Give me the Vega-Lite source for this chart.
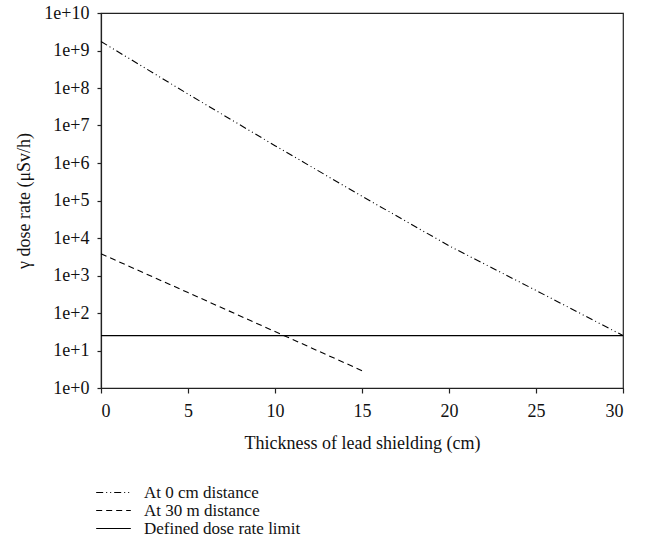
{
  "$schema": "https://vega.github.io/schema/vega-lite/v6.json",
  "autosize": "none",
  "width": 522,
  "height": 375,
  "padding": {"left": 101, "top": 13, "right": 23, "bottom": 168},
  "background": "white",
  "config": {
    "font": "'Liberation Serif', 'DejaVu Serif', serif",
    "view": {"stroke": "#222", "strokeWidth": 1.2},
    "axis": {"domainColor": "#222", "domainWidth": 1.2, "tickColor": "#222", "tickWidth": 1.2, "labelColor": "#111", "titleColor": "#111", "labelFont": "'Liberation Serif', 'DejaVu Serif', serif", "titleFont": "'Liberation Serif', 'DejaVu Serif', serif", "labelFontSize": 18, "titleFontSize": 18, "titleFontWeight": "normal", "grid": false}
  },
  "data": {
    "values": [
      {"series": "At 0 cm distance", "x": 0, "y": 1.74e9},
      {"series": "At 0 cm distance", "x": 5, "y": 6.9e7},
      {"series": "At 0 cm distance", "x": 10, "y": 2.9e6},
      {"series": "At 0 cm distance", "x": 15, "y": 1.3e5},
      {"series": "At 0 cm distance", "x": 20, "y": 6.2e3},
      {"series": "At 0 cm distance", "x": 25, "y": 400},
      {"series": "At 0 cm distance", "x": 30, "y": 25},
      {"series": "At 30 m distance", "x": 0, "y": 3800},
      {"series": "At 30 m distance", "x": 5, "y": 350},
      {"series": "At 30 m distance", "x": 10, "y": 32},
      {"series": "At 30 m distance", "x": 15, "y": 2.9},
      {"series": "Defined dose rate limit", "x": 0, "y": 25},
      {"series": "Defined dose rate limit", "x": 30, "y": 25}
    ]
  },
  "mark": {"type": "line", "color": "black", "strokeWidth": 1.1, "clip": false},
  "encoding": {
    "x": {
      "field": "x", "type": "quantitative",
      "scale": {"domain": [0, 30], "nice": false},
      "axis": {"values": [0, 5, 10, 15, 20, 25, 30], "tickSize": 5, "labelPadding": 9, "title": "Thickness of lead shielding (cm)", "titlePadding": 14}
    },
    "y": {
      "field": "y", "type": "quantitative",
      "scale": {"type": "log", "domain": [1, 10000000000], "nice": false},
      "axis": {"values": [1, 10, 100, 1000, 10000, 100000, 1000000, 10000000, 100000000, 1000000000, 10000000000], "labelExpr": "'1e+' + round(log(datum.value)/LN10)", "tickSize": 4, "labelPadding": 8, "title": "γ dose rate (μSv/h)", "titlePadding": 10}
    },
    "strokeDash": {
      "field": "series", "type": "nominal",
      "scale": {"domain": ["At 0 cm distance", "At 30 m distance", "Defined dose rate limit"], "range": [[7, 3, 1, 3, 1, 3], [6, 4], [1, 0]]},
      "legend": {"orient": "none", "legendX": 3, "legendY": 470, "title": null, "symbolType": "M-2,0H2", "symbolSize": 300, "symbolFillColor": "transparent", "symbolStrokeColor": "black", "symbolStrokeWidth": 1.1, "labelFontSize": 17, "labelFont": "'Liberation Serif', 'DejaVu Serif', serif", "labelColor": "#111", "labelOffset": 21, "rowPadding": 0, "symbolOffset": 0}
    }
  }
}
